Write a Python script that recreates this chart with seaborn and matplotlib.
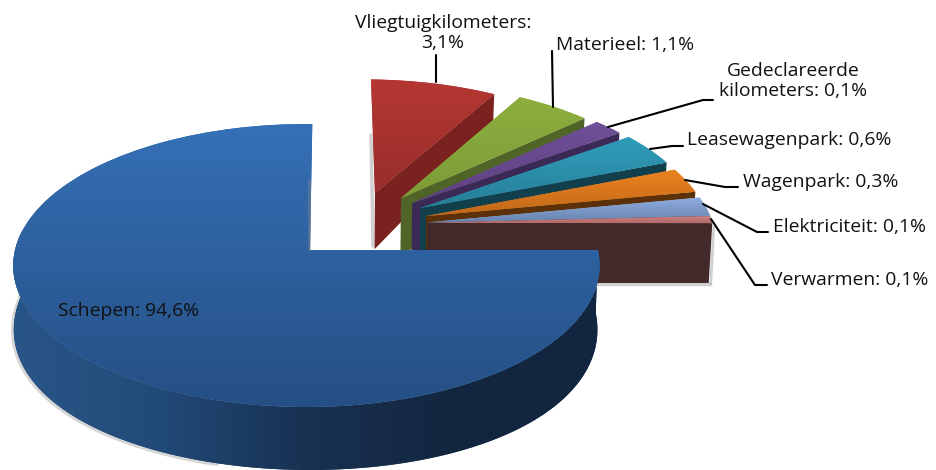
import numpy as np
import seaborn as sns
import matplotlib.pyplot as plt
import matplotlib.transforms as mtransforms
from matplotlib.colors import LinearSegmentedColormap
from matplotlib.patches import Polygon

# DATA, ordered counterclockwise starting from the blue slice
categories = ['Schepen', 'Verwarmen', 'Elektriciteit', 'Wagenpark', 'Leasewagenpark',
              'Gedeclareerde\nkilometers', 'Materieel', 'Vliegtuigkilometers']
percentages = [94.6, 0.1, 0.1, 0.3, 0.6, 0.1, 1.1, 3.1]
# the slices in the picture are not drawn to scale, these are the angles it shows
drawn_angles = [270.5, 3, 8, 10.5, 14, 7, 17.5, 29.5]

# how far each slice is pulled out of the pie and in which direction
pull_dist = [0, 0.46, 0.464, 0.482, 0.502, 0.506, 0.507, 0.487]
pull_dir = [0, 25.7, 26, 31.3, 38.4, 43.8, 49.9, 61.3]
slice_radius = [1, 1.02, 1.02, 1.016, 1.012, 1.008, 1, 0.985]

face_light = ['#3570B6', '#C98080', '#8FADDF', '#EC831F', '#2F9DBB', '#70509A', '#8DAF3F', '#B53733']
face_dark = ['#254F84', '#B56A6A', '#6884AF', '#C0681A', '#277F98', '#5C417F', '#7C9C38', '#982E2A']
wall_color = ['#1B3657', '#432A2A', '#2E415E', '#5C3008', '#123F4C', '#3B2A56', '#4F6426', '#792220']


class PieView(mtransforms.Transform):
    # perspective view of the top of the pie, from pie units to picture pixels
    input_dims = 2
    output_dims = 2

    def transform_non_affine(self, pts):
        pts = np.asarray(pts, dtype=float)
        w = 1 + 0.1095 * pts[:, 1] + 0.012 * pts[:, 0]
        return np.column_stack([310 + 291.4 * pts[:, 0] / w, 250 - 139.8 * pts[:, 1] / w])


def bottom_view(pts):
    # same thing for the bottom of the pie
    wx = 1 + 0.1095 * pts[:, 1] + 0.015 * pts[:, 0]
    wy = 1 + 0.035 * pts[:, 1]
    return np.column_stack([310 + 290 * pts[:, 0] / wx, 313 - 151.5 * pts[:, 1] / wy])


def gradient(patch, pts, colors, z, horizontal=False):
    cmap = LinearSegmentedColormap.from_list('g', colors)
    ramp = np.linspace(0, 1, 256)
    ramp = ramp.reshape(1, -1) if horizontal else ramp.reshape(-1, 1)
    im = ax.imshow(ramp, cmap=cmap, aspect='auto', zorder=z, origin='upper', interpolation='bilinear',
                   extent=(pts[:, 0].min(), pts[:, 0].max(), pts[:, 1].max(), pts[:, 1].min()))
    im.set_clip_path(patch)


sns.set_theme(style='white')
plt.rcParams['font.family'] = ['Open Sans', 'DejaVu Sans']

fig = plt.figure(figsize=(9.37, 4.70), dpi=100)
ax = fig.add_axes([0, 0, 1, 1])
view = PieView()

start = 89.5
wedges, _ = ax.pie(drawn_angles, startangle=start, colors=face_light, radius=1)

theta = start
for i, wedge in enumerate(wedges):
    z = 10 * (len(wedges) - i) if i > 0 else 90
    t1 = theta
    t2 = theta + drawn_angles[i]
    theta = t2
    cx = pull_dist[i] * np.cos(np.radians(pull_dir[i]))
    cy = pull_dist[i] * np.sin(np.radians(pull_dir[i]))
    radius = slice_radius[i]
    wedge.set_center((cx, cy))
    wedge.set_radius(radius)
    wedge.set_transform(view + ax.transData)
    wedge.set_zorder(z + 1)
    wedge.set_edgecolor('none')

    if i == 0:
        # round side of the big slice
        t = np.radians(np.linspace(172, 360, 160))
        rim = np.column_stack([np.cos(t), np.sin(t)])
        top = view.transform(rim)
        low = bottom_view(rim)
        wall = Polygon(np.vstack([top, low[::-1]]), closed=True, facecolor=wall_color[i],
                       edgecolor='none', zorder=z)
        ax.add_patch(wall)
        gradient(wall, np.vstack([top, low]), ['#295688', '#224A78', '#183152', '#13263F', '#13263F'],
                 z + 0.5, horizontal=True)
        ax.plot(low[:70, 0] - 1, low[:70, 1] + 1, color='#8A8A8A', lw=2.5, alpha=0.35, zorder=z - 1)
        # soft shadow next to the straight edge
        ax.plot([309, 309], [180, 250], color='#8A8A8A', lw=2, alpha=0.4, zorder=z + 3)
    else:
        # flat side along the lower edge of the slice
        a = np.radians(t1)
        edge = np.array([[cx, cy], [cx + radius * np.cos(a), cy + radius * np.sin(a)]])
        top = view.transform(edge)
        low = bottom_view(edge)
        wall = Polygon(np.vstack([top, low[::-1]]), closed=True, facecolor=wall_color[i],
                       edgecolor='none', zorder=z)
        ax.add_patch(wall)
        if i == 1:
            ax.plot(low[:, 0] + 1, low[:, 1] + 1.5, color='#8A8A8A', lw=2.5, alpha=0.4, zorder=z - 1)
            ax.plot([top[1, 0] + 1.5, low[1, 0] + 2], [top[1, 1] + 4, low[1, 1]], color='#8A8A8A',
                    lw=2, alpha=0.4, zorder=z - 1)
        if i == 7:
            ax.plot([371, 373], [135, 246], color='#8A8A8A', lw=2.5, alpha=0.4, zorder=z - 1)

    # lighter at the top, darker at the bottom
    face_pts = view.transform(wedge.get_path().vertices)
    gradient(wedge, face_pts, [face_light[i], face_dark[i]], z + 1.5)

# leader lines, in picture pixels
leaders = [
    [(436, 55), (436, 82)],
    [(552, 51), (553, 107)],
    [(608, 127), (703, 100), (713, 100)],
    [(650, 149), (672, 146), (683, 146)],
    [(685, 180), (725, 187), (738, 187)],
    [(703, 204), (757, 232), (768, 232)],
    [(711, 219), (755, 285), (767, 285)],
]
for line in leaders:
    xs, ys = zip(*line)
    ax.plot(xs, ys, color='black', lw=1.5, zorder=200, solid_joinstyle='miter')

# label anchors, same order as categories
label_pos = [(58, 311, 'left'), (771, 280, 'left'), (773, 227, 'left'), (743, 182, 'left'),
             (687, 140, 'left'), (793, 81, 'center'), (556, 45, 'left'), (443, 33, 'center')]
for i, name in enumerate(categories):
    value = f'{percentages[i]:.1f}%'.replace('.', ',')
    if i == 7:
        text = f'{name}:\n{value}'
    else:
        text = f'{name}: {value}'
    x, y, ha = label_pos[i]
    ax.text(x, y, text, ha=ha, va='center', fontsize=13.9, color='#111111', zorder=210,
            linespacing=1.2, multialignment='center')

ax.set_xlim(0, 937)
ax.set_ylim(470, 0)
ax.set_aspect('auto')
ax.axis('off')

fig.savefig('out.png', dpi=100, facecolor='white')
